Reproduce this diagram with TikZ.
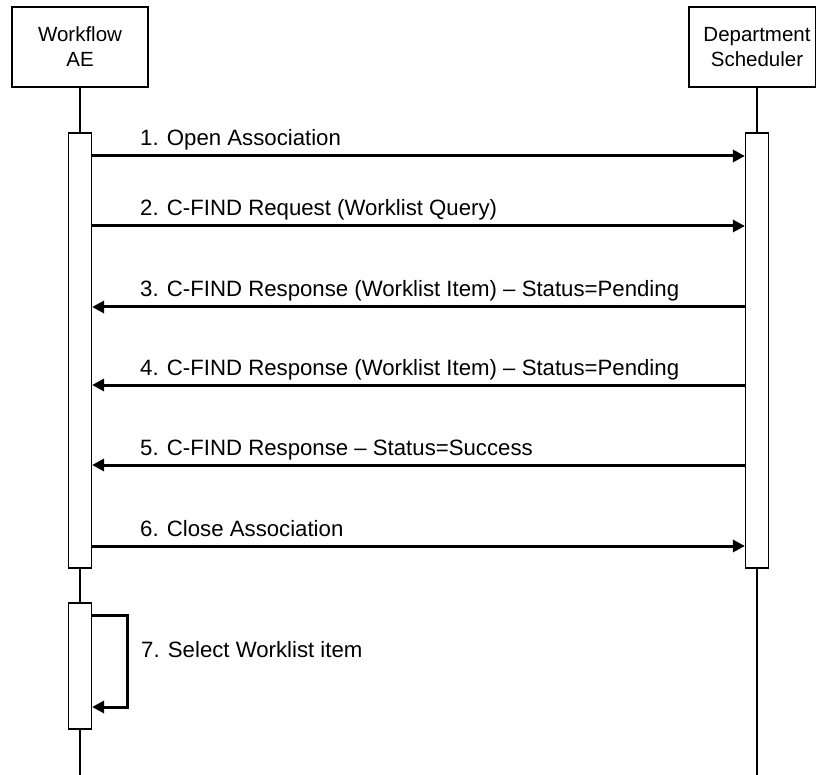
\documentclass[tikz,border=0pt]{standalone}
\usepackage{fontspec}
\setmainfont{Liberation Sans}
\usetikzlibrary{arrows.meta}
\tikzset{
  headnode/.style = {draw=black, fill=white, line width=1.2pt, inner sep=0pt,
    minimum width=136pt, minimum height=80pt},
  headtext/.style = {align=center, inner sep=0pt,
    font=\fontsize{20.5}{25}\selectfont},
  actbox/.style = {draw=black, fill=white, line width=1.2pt, inner sep=0pt,
    minimum width=23pt},
  lifeline/.style = {line width=1.3pt},
  msg/.style = {line width=3pt, -{Triangle[length=12pt,width=12pt]}},
  msglabel/.style = {anchor=base west, inner sep=0pt,
    font=\fontsize{22.2}{26}\selectfont}
}

\begin{document}
\begin{tikzpicture}[x=1pt,y=-1pt]
  \useasboundingbox (0,0) rectangle (816,775);
  % participants
  \node[headnode] (wf) at (80,47) {};
  \node[headtext] (wflabel) at (wf.center) {Workflow\\AE};
  \node[headnode, minimum width=126.5pt] (ds) at (752.25,47) {};
  \node[headtext] (dslabel) at (757,47) {Department\\Scheduler};
  \coordinate (wfend) at (80,775);
  \coordinate (dsend) at (757,775);
  \draw[lifeline] (wf) -- (wfend);
  \draw[lifeline] (dsend) -- (dsend |- ds.south);
  % activations
  \node[actbox, minimum height=435pt] (wfa) at (80,350.5) {};
  \node[actbox, minimum height=435pt] (dsa) at (757,350.5) {};
  \node[actbox, minimum height=126pt] (wfb) at (80,666) {};
  % messages
  \foreach \y/\from/\to/\txt [count=\i] in {
      156/wfa.east/dsa.west/{1. Open Association},
      226/wfa.east/dsa.west/{2. C-FIND Request (Worklist Query)},
      307/dsa.west/wfa.east/{3. C-FIND Response (Worklist Item) -- Status=Pending},
      385/dsa.west/wfa.east/{4. C-FIND Response (Worklist Item) -- Status=Pending},
      465/dsa.west/wfa.east/{5. C-FIND Response -- Status=Success},
      546/wfa.east/dsa.west/{6. Close Association}}{
    \draw[msg] (\from |- 0,\y) -- (\to |- 0,\y);
    \node[msglabel] (m\i) at (140,\y-10) {\txt};
  }
  \draw[msg] (wfb.east |- 0,615) -- ++(35,0) |- (wfb.east |- 0,707);
  \node[msglabel] (m7) at (141,657) {7. Select Worklist item};
\end{tikzpicture}
\end{document}
